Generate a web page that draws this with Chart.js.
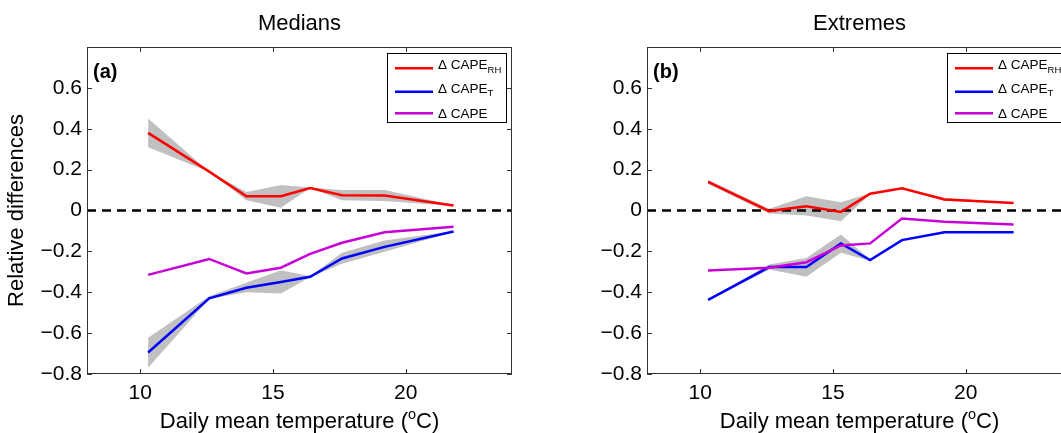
<!DOCTYPE html>
<html lang="en">
<head>
  <meta charset="UTF-8">
  <title>Relative differences of CAPE</title>
  <script src="https://cdn.jsdelivr.net/npm/chart.js"></script>
  <style>
    html, body {
      margin: 0;
      padding: 0;
      background: #fff;
      overflow: hidden;
      width: 1061px;
      height: 433px;
    }
    .panel {
      position: absolute;
      top: 0;
      width: 530px;
      height: 433px;
    }
    #wrapA { left: 0; }
    #wrapB { left: 560px; }
  </style>
</head>
<body>
  <div class="panel" id="wrapA"><canvas id="chartA"></canvas></div>
  <div class="panel" id="wrapB"><canvas id="chartB"></canvas></div>

  <script>
    // temperature bins (x)
    const temps = [10.3, 12.6, 14.0, 15.3, 16.4, 17.6, 19.2, 21.8];

    // (a) Medians
    const medRH   = [0.38, 0.19, 0.07, 0.07, 0.11, 0.075, 0.073, 0.024];
    const medRHhi = [0.45, 0.19, 0.09, 0.125, 0.112, 0.10, 0.10, 0.026];
    const medRHlo = [0.31, 0.19, 0.05, 0.013, 0.11, 0.05, 0.046, 0.022];
    const medT    = [-0.695, -0.43, -0.378, -0.35, -0.324, -0.235, -0.178, -0.103];
    const medThi  = [-0.623, -0.42, -0.354, -0.292, -0.322, -0.207, -0.147, -0.101];
    const medTlo  = [-0.77, -0.433, -0.40, -0.406, -0.326, -0.26, -0.202, -0.105];
    const medCAPE = [-0.315, -0.237, -0.308, -0.28, -0.212, -0.158, -0.106, -0.08];

    // (b) Extremes
    const extRH   = [0.14, -0.003, 0.021, -0.007, 0.082, 0.109, 0.054, 0.037];
    const extRHhi = [0.15, 0.008, 0.07, 0.04, 0.084, 0.11, 0.062, 0.039];
    const extRHlo = [0.13, -0.015, -0.024, -0.052, 0.08, 0.107, 0.048, 0.035];
    const extT    = [-0.437, -0.277, -0.277, -0.161, -0.243, -0.145, -0.106, -0.106];
    const extThi  = [-0.433, -0.264, -0.232, -0.117, -0.24, -0.143, -0.102, -0.104];
    const extTlo  = [-0.441, -0.289, -0.324, -0.207, -0.246, -0.147, -0.11, -0.108];
    const extCAPE = [-0.293, -0.28, -0.253, -0.171, -0.161, -0.039, -0.055, -0.068];

    // axes
    const xMin = 8, xMax = 24;
    const yMin = -0.8, yMax = 0.8;
    const xTicks = [10, 15, 20];
    const yTicks = [-0.8, -0.6, -0.4, -0.2, 0, 0.2, 0.4, 0.6];

    // legend text
    const legendNames = ['\u0394 CAPE', '\u0394 CAPE', '\u0394 CAPE'];
    const legendSubs  = ['RH', 'T', ''];
    const lineColors  = ['#ff0000', '#0000ff', '#c800d8'];

    const family = "'Liberation Sans', Arial, sans-serif";
    const axisColor = '#333333';
    const bandColor = '#c0c0c0';

    function toXY(xs, ys) {
      return xs.map((x, i) => ({ x: x, y: ys[i] }));
    }

    function fmtTick(v) {
      if (Math.abs(v) < 1e-9) return '0';
      return v.toFixed(1).replace('-', '\u2212');
    }

    // frame, inward ticks, titles, panel letter and legend
    const decor = {
      id: 'decor',
      afterDraw(chart, args, opts) {
        const ctx = chart.ctx;
        const a = chart.chartArea;
        const xs = chart.scales.x, ys = chart.scales.y;
        ctx.save();

        ctx.strokeStyle = axisColor;
        ctx.lineWidth = 1;
        ctx.setLineDash([]);
        ctx.strokeRect(a.left + 0.5, a.top + 0.5, a.right - a.left - 1, a.bottom - a.top - 1);
        ctx.beginPath();
        xTicks.forEach(v => {
          const px = Math.round(xs.getPixelForValue(v)) + 0.5;
          ctx.moveTo(px, a.bottom); ctx.lineTo(px, a.bottom - 5);
          ctx.moveTo(px, a.top); ctx.lineTo(px, a.top + 5);
        });
        yTicks.forEach(v => {
          const py = Math.round(ys.getPixelForValue(v)) + 0.5;
          ctx.moveTo(a.left, py); ctx.lineTo(a.left + 5, py);
          ctx.moveTo(a.right, py); ctx.lineTo(a.right - 5, py);
        });
        ctx.stroke();

        const cx = (a.left + a.right) / 2;
        ctx.fillStyle = '#000';
        ctx.textBaseline = 'alphabetic';

        // panel title
        ctx.font = '22px ' + family;
        ctx.textAlign = 'center';
        ctx.fillText(opts.title, cx, 30);

        // x axis title with superscript
        const main1 = 'Daily mean temperature (', sup = 'o', main2 = 'C)';
        ctx.textAlign = 'left';
        const w1 = ctx.measureText(main1).width, w3 = ctx.measureText(main2).width;
        ctx.font = '14.5px ' + family;
        const w2 = ctx.measureText(sup).width;
        let tx = cx - (w1 + w2 + w3) / 2;
        const by = a.bottom + 54;
        ctx.font = '22px ' + family;
        ctx.fillText(main1, tx, by);
        tx += w1;
        ctx.font = '14.5px ' + family;
        ctx.fillText(sup, tx, by - 9);
        tx += w2;
        ctx.font = '22px ' + family;
        ctx.fillText(main2, tx, by);

        // panel letter
        ctx.font = 'bold 20px ' + family;
        ctx.fillText(opts.letter, a.left + 6, a.top + 31);

        // legend
        const bx = a.right - 125, bt = a.top + 6, bw = 119, bh = 69;
        ctx.fillStyle = '#fff';
        ctx.fillRect(bx, bt, bw, bh);
        ctx.strokeStyle = '#000';
        ctx.lineWidth = 1;
        ctx.strokeRect(bx + 0.5, bt + 0.5, bw, bh);
        const rows = [15.3, 38.7, 60.3];
        legendNames.forEach((name, i) => {
          const ry = bt + rows[i];
          ctx.strokeStyle = lineColors[i];
          ctx.lineWidth = 2.5;
          ctx.beginPath();
          ctx.moveTo(bx + 8, ry);
          ctx.lineTo(bx + 46, ry);
          ctx.stroke();
          ctx.fillStyle = '#000';
          ctx.font = '13.5px ' + family;
          const base = legendSubs[i] ? ry + 1 : ry + 4.7;
          ctx.fillText(name, bx + 51, base);
          if (legendSubs[i]) {
            const nw = ctx.measureText(name).width;
            ctx.font = '9.5px ' + family;
            ctx.fillText(legendSubs[i], bx + 51 + nw, base + 3.5);
          }
        });

        ctx.restore();
      }
    };

    function makeChart(id, p) {
      const font = { family: family, size: 21 };
      return new Chart(document.getElementById(id), {
        type: 'line',
        data: {
          datasets: [
            { data: toXY(temps, p.cape), borderColor: lineColors[2], borderWidth: 2.5, pointRadius: 0, order: 0 },
            { data: toXY(temps, p.t), borderColor: lineColors[1], borderWidth: 2.5, pointRadius: 0, order: 1 },
            { data: toXY(temps, p.rh), borderColor: lineColors[0], borderWidth: 2.5, pointRadius: 0, order: 2 },
            { data: [{ x: xMin, y: 0 }, { x: xMax, y: 0 }], borderColor: '#000', borderWidth: 2.5,
              borderDash: [9, 6], pointRadius: 0, order: 3 },
            { data: toXY(temps, p.rhHi), borderColor: 'transparent', backgroundColor: bandColor,
              fill: '+1', pointRadius: 0, order: 4 },
            { data: toXY(temps, p.rhLo), borderColor: 'transparent', pointRadius: 0, fill: false, order: 5 },
            { data: toXY(temps, p.tHi), borderColor: 'transparent', backgroundColor: bandColor,
              fill: '+1', pointRadius: 0, order: 4 },
            { data: toXY(temps, p.tLo), borderColor: 'transparent', pointRadius: 0, fill: false, order: 5 }
          ]
        },
        options: {
          responsive: true,
          maintainAspectRatio: false,
          animation: false,
          events: [],
          layout: { padding: { top: 47, right: 18, left: 0, bottom: 0 } },
          elements: { line: { tension: 0, borderCapStyle: 'butt' } },
          plugins: {
            legend: { display: false },
            tooltip: { enabled: false },
            decor: { title: p.title, letter: p.letter }
          },
          scales: {
            x: {
              type: 'linear',
              min: xMin,
              max: xMax,
              afterBuildTicks: s => { s.ticks = xTicks.map(v => ({ value: v })); },
              afterFit: s => { s.height = 59; },
              grid: { display: false, drawTicks: false },
              border: { display: false },
              ticks: { font: font, color: '#000', padding: 7, maxRotation: 0 }
            },
            y: {
              type: 'linear',
              min: yMin,
              max: yMax,
              afterBuildTicks: s => { s.ticks = yTicks.map(v => ({ value: v })); },
              afterFit: s => { s.width = 87; },
              grid: { display: false, drawTicks: false },
              border: { display: false },
              ticks: { font: font, color: '#000', padding: 5, callback: v => fmtTick(v) },
              title: {
                display: p.yTitle,
                text: 'Relative differences',
                color: '#000',
                font: { family: family, size: 22 },
                padding: { top: 4, bottom: 0 }
              }
            }
          }
        },
        plugins: [decor]
      });
    }

    makeChart('chartA', {
      title: 'Medians', letter: '(a)', yTitle: true,
      rh: medRH, rhHi: medRHhi, rhLo: medRHlo,
      t: medT, tHi: medThi, tLo: medTlo, cape: medCAPE
    });
    makeChart('chartB', {
      title: 'Extremes', letter: '(b)', yTitle: false,
      rh: extRH, rhHi: extRHhi, rhLo: extRHlo,
      t: extT, tHi: extThi, tLo: extTlo, cape: extCAPE
    });
  </script>
</body>
</html>
